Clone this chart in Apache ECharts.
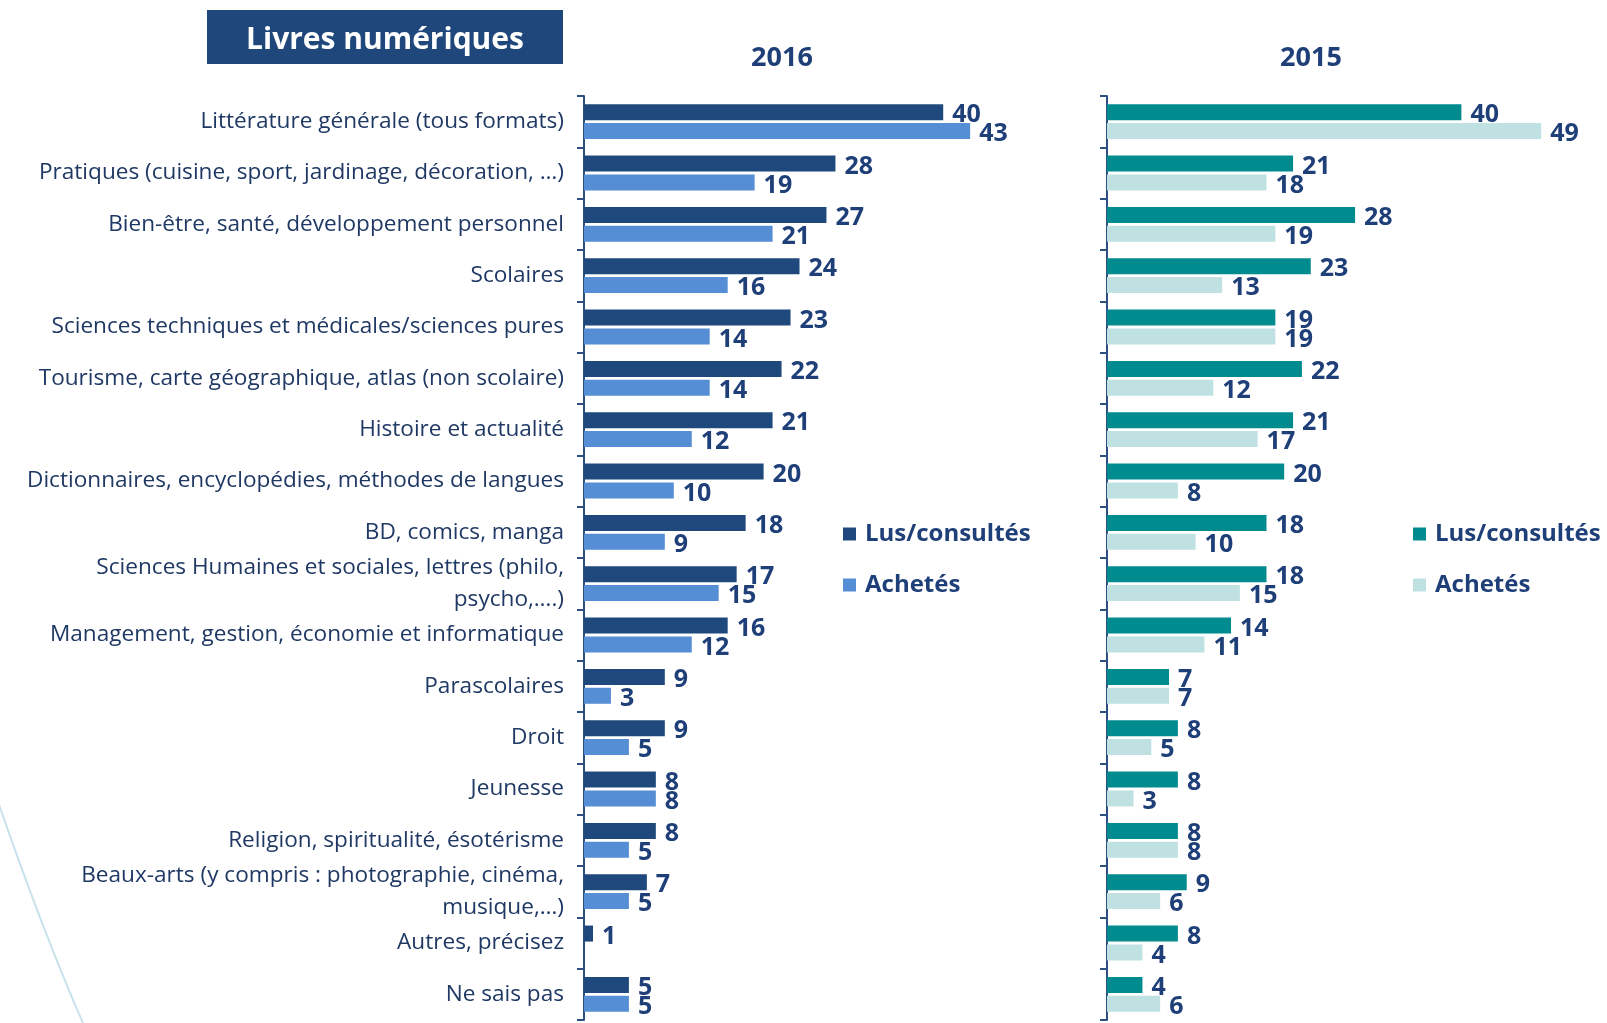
<!DOCTYPE html>
<html>
<head>
<meta charset="utf-8">
<script src="https://cdn.jsdelivr.net/npm/echarts@6/dist/echarts.min.js"></script>
<style>
  html, body { margin: 0; padding: 0; background: #fff; }
  #main { width: 1607px; height: 1023px; }
</style>
</head>
<body>
<div id="main"></div>
<script>
// categories (top to bottom)
var categories = [
  'Littérature générale (tous formats)',
  'Pratiques (cuisine, sport, jardinage, décoration, …)',
  'Bien-être, santé, développement personnel',
  'Scolaires',
  'Sciences techniques et médicales/sciences pures',
  'Tourisme, carte géographique, atlas (non scolaire)',
  'Histoire et actualité',
  'Dictionnaires, encyclopédies, méthodes de langues',
  'BD, comics, manga',
  'Sciences Humaines et sociales, lettres (philo,\npsycho,….)',
  'Management, gestion, économie et informatique',
  'Parascolaires',
  'Droit',
  'Jeunesse',
  'Religion, spiritualité, ésotérisme',
  'Beaux-arts (y compris : photographie, cinéma,\nmusique,…)',
  'Autres, précisez',
  'Ne sais pas'
];

var lus2016     = [40, 28, 27, 24, 23, 22, 21, 20, 18, 17, 16, 9, 9, 8, 8, 7, 1, 5];
var achetes2016 = [43, 19, 21, 16, 14, 14, 12, 10, 9, 15, 12, 3, 5, 8, 5, 5, null, 5];
var lus2015     = [40, 21, 28, 23, 19, 22, 21, 20, 18, 18, 14, 7, 8, 8, 8, 9, 8, 4];
var achetes2015 = [49, 18, 19, 13, 19, 12, 17, 8, 10, 15, 11, 7, 5, 3, 8, 6, 4, 6];

var navy = '#1F3F78';
var axisColor = '#2E4F82';
var font = '"Open Sans"';

var chart = echarts.init(document.getElementById('main'));

function yAx(gridIndex, showLabels) {
  return {
    type: 'category',
    gridIndex: gridIndex,
    data: categories,
    inverse: true,
    axisLine: { lineStyle: { color: axisColor, width: 2 } },
    axisTick: { show: true, length: 7, lineStyle: { color: axisColor, width: 2 } },
    axisLabel: {
      show: showLabels,
      fontFamily: font,
      fontSize: 22.6,
      color: '#1F3864',
      margin: 20,
      lineHeight: 32,
      align: 'right'
    },
    splitLine: { show: false }
  };
}

function xAx(gridIndex) {
  return {
    type: 'value', gridIndex: gridIndex, min: 0, max: 50, show: false,
    splitLine: { show: false }
  };
}

var valueLabel = {
  show: true,
  position: 'right',
  distance: 9,
  offset: [0, 3],
  fontFamily: font,
  fontWeight: 'bold',
  fontSize: 25,
  color: navy
};

function barSeries(name, data, idx, color) {
  return {
    name: name,
    type: 'bar',
    xAxisIndex: idx,
    yAxisIndex: idx,
    data: data,
    barWidth: 16,
    barGap: '18%',
    itemStyle: { color: color },
    label: valueLabel
  };
}

var legendText = { fontFamily: font, fontWeight: 'bold', fontSize: 24, color: navy, padding: [0, 0, 0, 4] };

var option = {
  animation: false,
  backgroundColor: '#ffffff',
  grid: [
    { left: 584, top: 96, width: 449, height: 924 },
    { left: 1107, top: 96, width: 443, height: 924 }
  ],
  xAxis: [xAx(0), xAx(1)],
  yAxis: [yAx(0, true), yAx(1, false)],
  legend: [
    {
      orient: 'vertical', left: 838, top: 517,
      itemWidth: 13, itemHeight: 13, itemGap: 27,
      icon: 'rect',
      textStyle: legendText,
      data: [
        { name: 'Lus/consultés', itemStyle: { color: '#1F497D' } },
        { name: 'Achetés', itemStyle: { color: '#558ED5' } }
      ]
    },
    {
      orient: 'vertical', left: 1408, top: 517,
      itemWidth: 13, itemHeight: 13, itemGap: 27,
      icon: 'rect',
      textStyle: legendText,
      data: [
        { name: 'Lus/consultés', itemStyle: { color: '#008B8F' } },
        { name: 'Achetés', itemStyle: { color: '#BFE1E1' } }
      ]
    }
  ],
  graphic: [
    {
      type: 'bezierCurve', silent: true, z: -1,
      shape: { x1: -4, y1: 796, x2: 86, y2: 1030, cpx1: 25, cpy1: 880, cpx2: 55, cpy2: 960 },
      style: { stroke: '#C8E2EC', lineWidth: 2, fill: null }
    },
    {
      type: 'rect',
      shape: { x: 207, y: 10, width: 356, height: 54 },
      style: { fill: '#20477B' }
    },
    {
      type: 'text', x: 385, y: 40,
      style: {
        text: 'Livres numériques', fill: '#ffffff',
        font: 'bold 30px "Open Sans"', align: 'center', verticalAlign: 'middle'
      }
    },
    {
      type: 'text', x: 782, y: 58,
      style: { text: '2016', fill: navy, font: 'bold 27px "Open Sans"', align: 'center', verticalAlign: 'middle' }
    },
    {
      type: 'text', x: 1311, y: 58,
      style: { text: '2015', fill: navy, font: 'bold 27px "Open Sans"', align: 'center', verticalAlign: 'middle' }
    }
  ],
  series: [
    barSeries('Lus/consultés', lus2016, 0, '#1F497D'),
    barSeries('Achetés', achetes2016, 0, '#558ED5'),
    barSeries('Lus/consultés', lus2015, 1, '#008B8F'),
    barSeries('Achetés', achetes2015, 1, '#BFE1E1')
  ]
};

chart.setOption(option);
</script>
</body>
</html>
